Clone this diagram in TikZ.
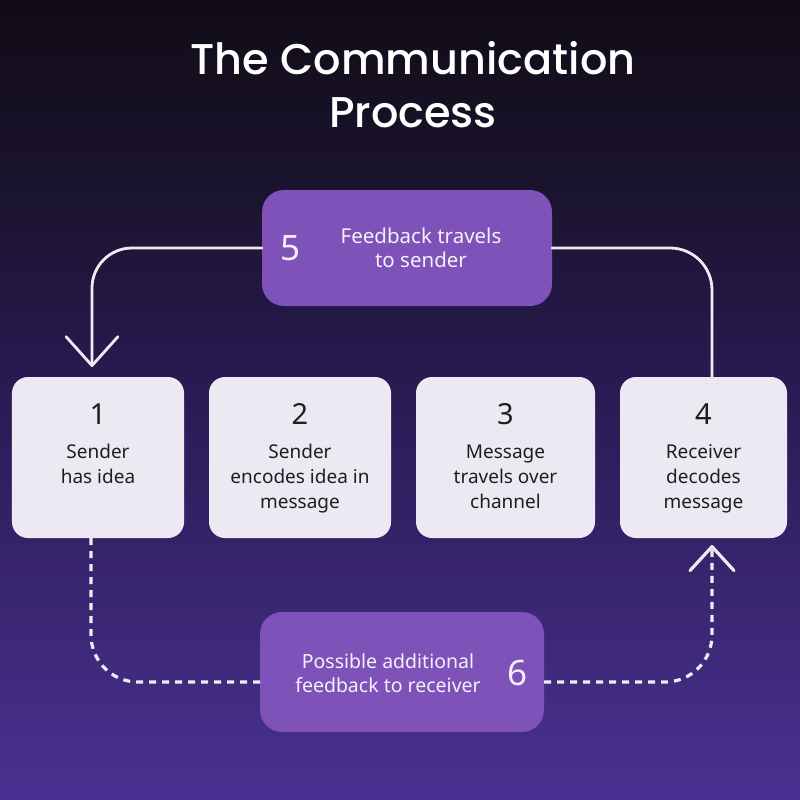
\documentclass[tikz,border=0pt]{standalone}
\usepackage{fontspec}
\setmainfont{Noto Sans}
\newfontfamily\titlefont{Poppins}[UprightFont=* Medium]
\usetikzlibrary{arrows.meta}
\definecolor{bgc0}{HTML}{4A3192}
\definecolor{bgc1}{HTML}{3A2672}
\definecolor{bgc2}{HTML}{2A1B55}
\definecolor{bgc3}{HTML}{1B1430}
\definecolor{bgc4}{HTML}{110C17}
\definecolor{cardfill}{HTML}{EDE9F3}
\definecolor{purplebox}{HTML}{7E52B8}
\definecolor{linecol}{HTML}{F0ECF5}
\definecolor{darktext}{HTML}{1F1D24}
\definecolor{lighttext}{HTML}{F4F0FA}
\pgfdeclareverticalshading{bgshade}{100bp}{color(0bp)=(bgc0); color(25bp)=(bgc0); color(37.5bp)=(bgc1); color(50bp)=(bgc2); color(62.5bp)=(bgc3); color(75bp)=(bgc4); color(100bp)=(bgc4)}
\tikzset{
  card/.style={fill=cardfill, rounded corners=16bp, inner sep=0pt, outer sep=0pt, minimum height=161bp},
  pbox/.style={fill=purplebox, rounded corners=22bp, inner sep=0pt, outer sep=0pt},
  numtxt/.style={anchor=base, inner sep=0pt, text=darktext, font=\fontsize{29bp}{29bp}\selectfont},
  bodytxt/.style={anchor=base, inner sep=0pt, text=darktext, align=center, font=\fontsize{19bp}{25bp}\selectfont},
  pnum/.style={anchor=base, inner sep=0pt, text=lighttext, font=\fontsize{35bp}{35bp}\selectfont},
  ptxt/.style={anchor=base, inner sep=0pt, text=lighttext, align=center, font=\fontsize{19.5bp}{24bp}\selectfont},
  titletxt/.style={anchor=base, inner sep=0pt, text=white, font=\titlefont\fontsize{43bp}{52bp}\selectfont},
  flow/.style={draw=linecol, line width=2.8bp, line cap=round},
  dflow/.style={draw=linecol, line width=3.2bp, dash pattern=on 7bp off 6bp},
  tipA/.style={-{Straight Barb[length=29bp,width=52bp,round]}},
  tipB/.style={-{Straight Barb[length=24bp,width=44bp,round]}}
}
\begin{document}
\begin{tikzpicture}[x=1bp,y=-1bp]
\useasboundingbox (0,0) rectangle (800,800);
\shade[shading=bgshade] (0,0) rectangle (800,800);
% title
\node[titletxt] (tl1) at (413,75) {The Communication};
\node[titletxt] (tl2) at (413,127) {Process};
% cards
\node[card, minimum width=172bp] (b1) at (98,457.5) {};
\node[card, minimum width=182bp] (b2) at (300,457.5) {};
\node[card, minimum width=179bp] (b3) at (505.5,457.5) {};
\node[card, minimum width=167bp] (b4) at (703.5,457.5) {};
\node[numtxt] (n1) at (98,424) {1};
\node[numtxt] (n2) at (300,424) {2};
\node[numtxt] (n3) at (505.5,424) {3};
\node[numtxt] (n4) at (703.5,424) {4};
\node[bodytxt] (t1) at (98,483) {Sender\\has idea};
\node[bodytxt] (t2) at (300,508) {Sender\\encodes idea in\\message};
\node[bodytxt] (t3) at (505.5,508) {Message\\travels over\\channel};
\node[bodytxt] (t4) at (703.5,508) {Receiver\\decodes\\message};
% purple boxes
\node[pbox, minimum width=290bp, minimum height=116bp] (b5) at (407,248) {};
\node[pnum] (n5) at (291,260) {5};
\node[ptxt, font=\fontsize{20.5bp}{24bp}\selectfont] (t5) at (421,267) {Feedback travels\\to sender};
\node[pbox, minimum width=284bp, minimum height=120bp] (b6) at (402,672) {};
\node[ptxt] (t6) at (388,692) {Possible additional\\feedback to receiver};
\node[pnum] (n6) at (518,685) {6};
% connectors
\draw[flow, rounded corners=42bp] ([xshift=8.5bp]b4.north) |- (b5.east);
\draw[flow, tipA, rounded corners=40bp, shorten >=10bp] (b5.west) -| ([xshift=-6bp]b1.north);
\draw[dflow, rounded corners=47bp] ([xshift=-7bp]b1.south) |- ([yshift=-10bp]b6.west);
\draw[dflow, tipB, rounded corners=47bp, shorten >=7bp] ([yshift=-10bp]b6.east) -| ([xshift=8.5bp]b4.south);
\end{tikzpicture}
\end{document}
